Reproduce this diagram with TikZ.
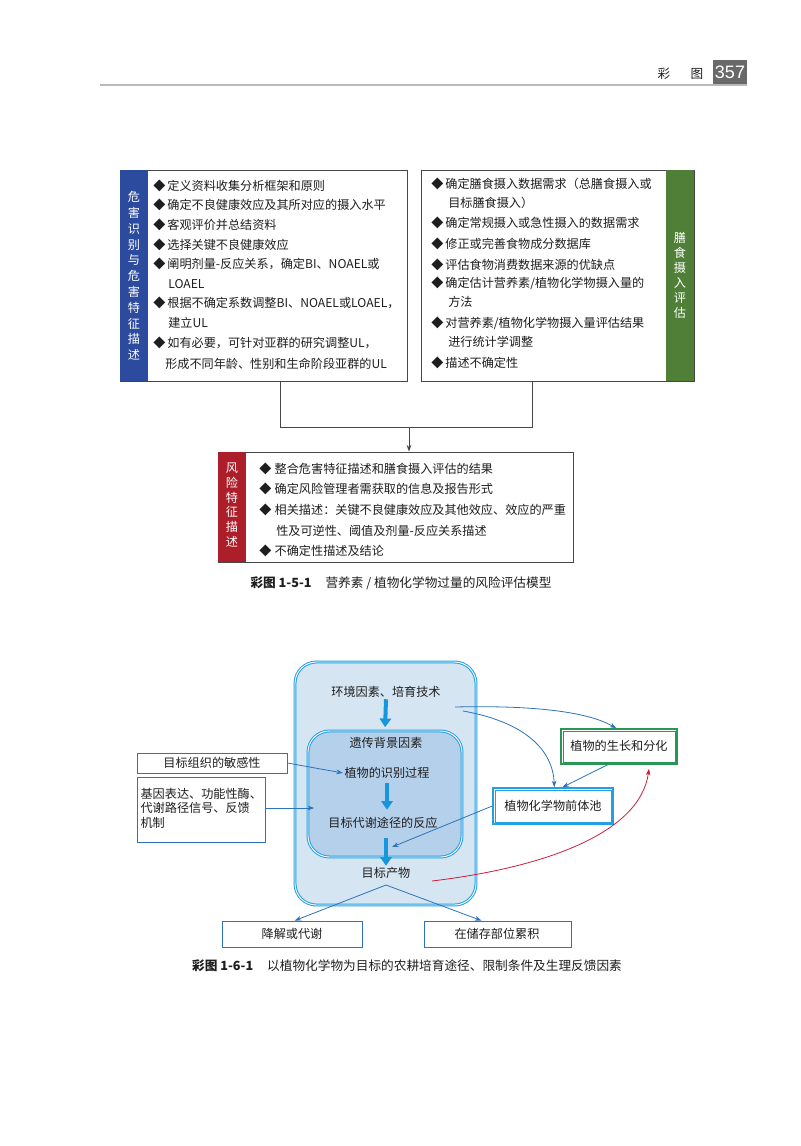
\documentclass[tikz,border=0pt]{standalone}
\usepackage{fontspec}
\setmainfont{Noto Sans CJK SC}
\newfontfamily\latinsans{Liberation Sans}
\usetikzlibrary{arrows.meta,fit}
\definecolor{hzblue}{RGB}{45,75,158}
\definecolor{iegreen}{RGB}{80,128,55}
\definecolor{rcred}{RGB}{172,30,42}
\definecolor{boxline}{RGB}{70,70,70}
\definecolor{skyline}{RGB}{35,160,225}
\definecolor{outerfill}{RGB}{214,229,242}
\definecolor{innerfill}{RGB}{181,208,234}
\definecolor{bigarrowc}{RGB}{22,150,220}
\definecolor{thinblue}{RGB}{45,115,185}
\definecolor{redline}{RGB}{205,30,55}
\definecolor{growgreen}{RGB}{40,150,85}
\definecolor{pagegrey}{RGB}{105,105,105}
\definecolor{ruleg}{RGB}{185,185,185}
\definecolor{textc}{RGB}{30,30,30}
\begin{document}
\begin{tikzpicture}[x=0.75pt,y=-0.75pt, font=\fontsize{9.1}{11}\selectfont, text=textc,
  pbox/.style={draw=boxline, line width=0.6pt, inner sep=0pt, fill=white},
  band/.style={inner sep=0pt, fill=#1, draw=none},
  bandtext/.style={text=white, align=center, inner sep=0pt, font=\fontsize{9.1}{#1}\selectfont},
  li/.style={anchor=west, inner sep=0pt},
  pline/.style={draw=boxline, line width=0.6pt},
  outerbox/.style={draw=skyline, double=white, line width=0.75pt, double distance=0.7pt, fill=#1, rounded corners=16pt, inner sep=0pt},
  sbox/.style={draw=thinblue, line width=0.6pt, fill=white, inner sep=0pt},
  framebox/.style={draw=#1, line width=1.1pt, fill=white, inner sep=0pt},
  tx/.style={inner sep=1pt},
  bigarrow/.style={draw=bigarrowc, line width=3pt, -{Triangle[length=6.5pt,width=8.5pt]}, bigarrowc},
  thinarrow/.style={draw=thinblue, line width=0.6pt, -{Stealth[length=5pt,width=3.5pt]}, thinblue},
  thinline/.style={draw=thinblue, line width=0.6pt}
]
\useasboundingbox (0,0) rectangle (800,1146);

% ---------- header ----------
\node[fill=pagegrey, inner sep=0pt, fit={(713,60) (747,84)}] (pg) {};
\node[text=white, font=\latinsans\fontsize{13.5}{14}\selectfont, inner sep=0pt] (pgn) at (pg.center) {357};
\coordinate (hl) at (100,85);
\draw[ruleg, line width=1.1pt] (hl) -- (hl -| pg.east);
\node[tx, font=\fontsize{9.5}{11}\selectfont] (hc1) at (664,74) {彩};
\node[tx, font=\fontsize{9.5}{11}\selectfont] (hc2) at (697,74) {图};

% ---------- figure 1-5-1 ----------
\node[pbox, fit={(120,170) (407,381)}] (hz) {};
\node[band=hzblue, fit={(120,170) (148,381)}] (hzb) {};
\node[bandtext=11.85pt] (hzt) at (134,276) {危\\害\\识\\别\\与\\危\\害\\特\\征\\描\\述};

\node[li] (h1) at (153,186) {◆\hspace{1.5pt}定义资料收集分析框架和原则};
\node[li] (h2) at (153,205) {◆\hspace{1.5pt}确定不良健康效应及其所对应的摄入水平};
\node[li] (h3) at (153,225) {◆\hspace{1.5pt}客观评价并总结资料};
\node[li] (h4) at (153,245) {◆\hspace{1.5pt}选择关键不良健康效应};
\node[li] (h5) at (153,264) {◆\hspace{1.5pt}阐明剂量-反应关系，确定BI、NOAEL或};
\node[li] (h5b) at (168,284) {LOAEL};
\node[li] (h6) at (153,303) {◆\hspace{1.5pt}根据不确定系数调整BI、NOAEL或LOAEL，};
\node[li] (h6b) at (168,323) {建立UL};
\node[li] (h7) at (153,343) {◆\hspace{1.5pt}如有必要，可针对亚群的研究调整UL，};
\node[li] (h7b) at (165,364) {形成不同年龄、性别和生命阶段亚群的UL};

\node[pbox, fit={(421,170) (694,381)}] (ie) {};
\node[band=iegreen, fit={(666,170) (694,381)}] (ieb) {};
\node[bandtext=11.25pt] (iet) at (680,275) {膳\\食\\摄\\入\\评\\估};

\node[li] (e1) at (431,184) {◆\hspace{1.5pt}确定膳食摄入数据需求（总膳食摄入或};
\node[li] (e1b) at (448,203) {目标膳食摄入）};
\node[li] (e2) at (431,223) {◆\hspace{1.5pt}确定常规摄入或急性摄入的数据需求};
\node[li] (e3) at (431,244) {◆\hspace{1.5pt}修正或完善食物成分数据库};
\node[li] (e4) at (431,265) {◆\hspace{1.5pt}评估食物消费数据来源的优缺点};
\node[li] (e5) at (431,283) {◆\hspace{1.5pt}确定估计营养素/植物化学物摄入量的};
\node[li] (e5b) at (448,302) {方法};
\node[li] (e6) at (431,323) {◆\hspace{1.5pt}对营养素/植物化学物摄入量评估结果};
\node[li] (e6b) at (448,342) {进行统计学调整};
\node[li] (e7) at (431,363) {◆\hspace{1.5pt}描述不确定性};

\node[pbox, fit={(218,452) (573,562)}] (rc) {};
\node[band=rcred, fit={(218,452) (246,562)}] (rcb) {};
\node[bandtext=11.1pt] (rct) at (232,505) {风\\险\\特\\征\\描\\述};

\node[li] (r1) at (259,469) {◆\hspace{2.5pt}整合危害特征描述和膳食摄入评估的结果};
\node[li] (r2) at (259,489) {◆\hspace{2.5pt}确定风险管理者需获取的信息及报告形式};
\node[li] (r3) at (259,510) {◆\hspace{2.5pt}相关描述：关键不良健康效应及其他效应、效应的严重};
\node[li] (r3b) at (276,531) {性及可逆性、阈值及剂量-反应关系描述};
\node[li] (r4) at (259,551) {◆\hspace{2.5pt}不确定性描述及结论};

\coordinate (j1) at (280,427);
\coordinate (j2) at (532,427);
\coordinate (jm) at (409,427);
\draw[pline] (hz.south -| j1) -- (j1) -- (j2) -- (ie.south -| j2);
\draw[pline, -{Stealth[length=5pt,width=3.5pt]}, boxline] (jm) -- (rc.north -| jm);

\node[tx, font=\fontsize{9.5}{11}\selectfont] (cap1) at (401,583) {\textbf{彩图 1-5-1}\hspace{1.1em}营养素 / 植物化学物过量的风险评估模型};

% ---------- figure 1-6-1 ----------
\node[outerbox=outerfill, fit={(295,662) (476,905)}] (outer) {};
\node[outerbox=innerfill, fit={(308,731) (462,857)}] (inner) {};

\node[tx] (env) at (386,692) {环境因素、培育技术};
\node[tx] (gen) at (386,743) {遗传背景因素};
\node[tx] (idp) at (387,773) {植物的识别过程};
\node[tx] (resp) at (383,823) {目标代谢途径的反应};
\node[tx] (prod) at (386,873) {目标产物};

\draw[bigarrow, shorten >=2.5pt] (env.south) -- (inner.north);
\draw[bigarrow, shorten <=2pt, shorten >=4.5pt] (idp.south) -- (idp.south |- resp.north);
\draw[bigarrow, shorten <=6pt] (resp.south -| prod.north) -- (prod.north);

\node[sbox, fit={(137,753) (287,773)}] (s1) {};
\node[tx] (s1t) at (212,763) {目标组织的敏感性};
\node[sbox, fit={(137,777) (265,842)}] (s2) {};
\node[tx, anchor=west, align=left, font=\fontsize{9.1}{10.9}\selectfont] (s2t) at (139,808) {基因表达、功能性酶、\\代谢路径信号、反馈\\机制};

\node[framebox=growgreen, fit={(561,729) (677,764)}] (grow) {};
\draw[growgreen, line width=0.5pt] ([shift={(2pt,-2pt)}]grow.north west) rectangle ([shift={(-2pt,2pt)}]grow.south east);
\node[tx] (growt) at (619,746) {植物的生长和分化};
\node[framebox=skyline, fit={(493,788) (613,824)}] (pool) {};
\draw[skyline, line width=0.5pt] ([shift={(2pt,-2pt)}]pool.north west) rectangle ([shift={(-2pt,2pt)}]pool.south east);
\node[tx] (poolt) at (553,806) {植物化学物前体池};

\node[sbox, fit={(222,921) (362,947)}] (deg) {};
\node[tx] (degt) at (292,934) {降解或代谢};
\node[sbox, fit={(424,921) (571,947)}] (acc) {};
\node[tx] (acct) at (497,934) {在储存部位累积};

\draw[thinarrow] (s1.east) -- (idp.west);
\draw[thinarrow] (s2.east |- s2t.west) -- ([xshift=5pt]inner.west |- s2t.west);

\coordinate (c1) at (455,707);
\coordinate (c2) at (463,711);
\coordinate (t3) at (392,847);
\coordinate (r0) at (432,881);
\draw[thinarrow] (c1) .. controls (540,705) and (590,713) .. ([xshift=-2pt]grow.north);
\draw[thinarrow] (c2) .. controls (525,722) and (553,750) .. ([xshift=1pt]pool.north);
\draw[thinarrow] ([xshift=-8.5pt]grow.south) -- ([xshift=7pt]pool.north);
\draw[thinarrow] (pool.west) -- (t3);
\draw[draw=redline, line width=0.6pt, -{Stealth[length=5pt,width=3.5pt]}, redline] (r0) .. controls (540,868) and (640,835) .. ([xshift=22.5pt, yshift=-3pt]grow.south);

\coordinate (p0) at (386,885);
\draw[thinarrow] (p0) -- ([xshift=2pt]deg.north);
\draw[thinarrow] (p0) -- ([xshift=-12pt]acc.north);

\node[tx, font=\fontsize{9.5}{11}\selectfont] (cap2) at (407,966) {\textbf{彩图 1-6-1}\hspace{1.1em}以植物化学物为目标的农耕培育途径、限制条件及生理反馈因素};
\end{tikzpicture}
\end{document}
